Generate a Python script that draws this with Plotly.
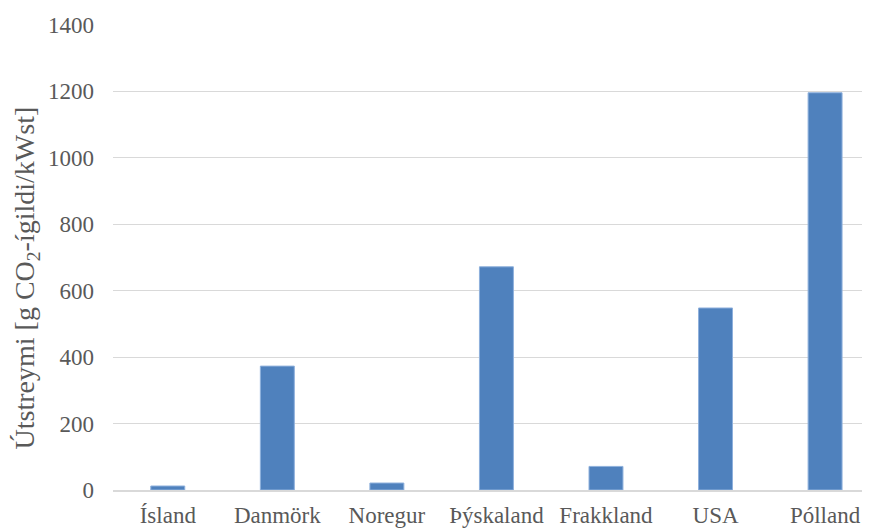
import plotly.graph_objects as go

countries = ["Ísland", "Danmörk", "Noregur", "Þýskaland", "Frakkland", "USA", "Pólland"]
emissions = [12, 373, 21, 672, 71, 548, 1196]
y_ticks = [0, 200, 400, 600, 800, 1000, 1200, 1400]

FONT = "Liberation Serif, Times New Roman, serif"
GREY = "#595959"
FS = 23

fig = go.Figure(go.Bar(
    x=countries, y=emissions,
    marker=dict(color="#4F81BD", line=dict(color="#8eb0dc", width=1)),
    width=0.31,
))

fig.update_layout(
    width=862, height=522,
    margin=dict(l=105, r=0, t=17, b=40),
    paper_bgcolor="white", plot_bgcolor="white",
    font=dict(family=FONT, size=FS, color=GREY),
    showlegend=False,
    annotations=[dict(
        text="Útstreymi [g CO<sub>2</sub>-ígildi/kWst]",
        textangle=-90, xref="paper", yref="paper",
        x=-0.113, y=0.456, xanchor="center", yanchor="middle",
        showarrow=False, font=dict(family=FONT, size=28, color=GREY),
    )],
)
fig.update_xaxes(
    type="category", range=[-0.5, 6.41],
    showgrid=False, showline=True, linecolor="#d9d9d9", linewidth=2,
    ticks="", ticklabelstandoff=3,
    tickfont=dict(family=FONT, size=FS, color=GREY),
)
fig.update_yaxes(
    range=[0, 1400], tickvals=y_ticks, ticktext=[str(v) for v in y_ticks],
    showgrid=True, gridcolor="#d9d9d9", gridwidth=1,
    zeroline=False, showline=False, ticks="", ticklabelstandoff=18,
    tickfont=dict(family=FONT, size=FS, color=GREY),
    automargin=False,
)
fig.write_html("out.html")
